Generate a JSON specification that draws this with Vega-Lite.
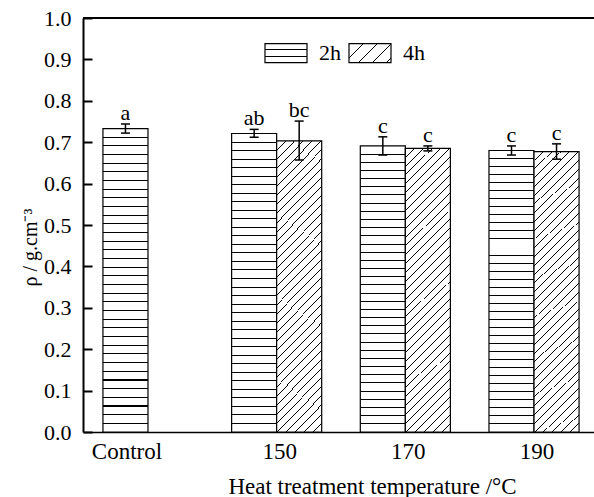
{
"$schema":"https://vega.github.io/schema/vega-lite/v6.json",
"autosize":{"type":"none"},
"padding":{"left":83,"top":18,"right":0,"bottom":65},
"width":511,"height":414,
"background":"white",
"config":{"font":"Liberation Serif","view":{"stroke":null},"axis":{"labelFont":"Liberation Serif","titleFont":"Liberation Serif","titleFontWeight":"normal","labelColor":"black","titleColor":"black","grid":false}},
"data":{"values":[
{"group":"Control","time":"2h","mean":0.733,"lo":0.722,"hi":0.744,"letter":"a"},
{"group":"150","time":"2h","mean":0.721,"lo":0.712,"hi":0.731,"letter":"ab"},
{"group":"150","time":"4h","mean":0.703,"lo":0.657,"hi":0.751,"letter":"bc"},
{"group":"170","time":"2h","mean":0.691,"lo":0.669,"hi":0.713,"letter":"c"},
{"group":"170","time":"4h","mean":0.685,"lo":0.679,"hi":0.691,"letter":"c"},
{"group":"190","time":"2h","mean":0.68,"lo":0.669,"hi":0.691,"letter":"c"},
{"group":"190","time":"4h","mean":0.677,"lo":0.659,"hi":0.696,"letter":"c"}
]},
"layer":[
{"encoding":{
"x":{"field":"group","type":"nominal","scale":{"domain":["Control","150","170","190"],"range":[0,516],"paddingInner":0.3,"paddingOuter":0.155},
"axis":{"title":"Heat treatment temperature /°C","ticks":false,"domainColor":"black","domainWidth":1.5,"labelAngle":0,"labelFontSize":23,"labelPadding":8,"labelOffset":{"condition":{"test":"datum.value==='Control'","value":-21},"value":3},"titleFontSize":23,"titlePadding":12,"titleX":289}},
"xOffset":{"field":"time","type":"nominal","scale":{"domain":["2h","4h"]}}
},
"layer":[
{"mark":{"type":"bar","strokeWidth":1.2,"fill":{"expr":"datum.time === '2h' ? {gradient:'linear',x1:0,y1:0,x2:0,y2:1,stops:[{offset:0.0269,color:'#fff'},{offset:0.0269,color:'#000'},{offset:0.0303,color:'#000'},{offset:0.0303,color:'#fff'},{offset:0.0554,color:'#fff'},{offset:0.0554,color:'#000'},{offset:0.0588,color:'#000'},{offset:0.0588,color:'#fff'},{offset:0.084,color:'#fff'},{offset:0.084,color:'#000'},{offset:0.0874,color:'#000'},{offset:0.0874,color:'#fff'},{offset:0.1126,color:'#fff'},{offset:0.1126,color:'#000'},{offset:0.116,color:'#000'},{offset:0.116,color:'#fff'},{offset:0.1412,color:'#fff'},{offset:0.1412,color:'#000'},{offset:0.1446,color:'#000'},{offset:0.1446,color:'#fff'},{offset:0.1697,color:'#fff'},{offset:0.1697,color:'#000'},{offset:0.1731,color:'#000'},{offset:0.1731,color:'#fff'},{offset:0.1983,color:'#fff'},{offset:0.1983,color:'#000'},{offset:0.2017,color:'#000'},{offset:0.2017,color:'#fff'},{offset:0.2269,color:'#fff'},{offset:0.2269,color:'#000'},{offset:0.2303,color:'#000'},{offset:0.2303,color:'#fff'},{offset:0.2554,color:'#fff'},{offset:0.2554,color:'#000'},{offset:0.2588,color:'#000'},{offset:0.2588,color:'#fff'},{offset:0.284,color:'#fff'},{offset:0.284,color:'#000'},{offset:0.2874,color:'#000'},{offset:0.2874,color:'#fff'},{offset:0.3126,color:'#fff'},{offset:0.3126,color:'#000'},{offset:0.316,color:'#000'},{offset:0.316,color:'#fff'},{offset:0.3412,color:'#fff'},{offset:0.3412,color:'#000'},{offset:0.3446,color:'#000'},{offset:0.3446,color:'#fff'},{offset:0.3697,color:'#fff'},{offset:0.3697,color:'#000'},{offset:0.3731,color:'#000'},{offset:0.3731,color:'#fff'},{offset:0.3983,color:'#fff'},{offset:0.3983,color:'#000'},{offset:0.4017,color:'#000'},{offset:0.4017,color:'#fff'},{offset:0.4269,color:'#fff'},{offset:0.4269,color:'#000'},{offset:0.4303,color:'#000'},{offset:0.4303,color:'#fff'},{offset:0.4554,color:'#fff'},{offset:0.4554,color:'#000'},{offset:0.4588,color:'#000'},{offset:0.4588,color:'#fff'},{offset:0.484,color:'#fff'},{offset:0.484,color:'#000'},{offset:0.4874,color:'#000'},{offset:0.4874,color:'#fff'},{offset:0.5126,color:'#fff'},{offset:0.5126,color:'#000'},{offset:0.516,color:'#000'},{offset:0.516,color:'#fff'},{offset:0.5412,color:'#fff'},{offset:0.5412,color:'#000'},{offset:0.5446,color:'#000'},{offset:0.5446,color:'#fff'},{offset:0.5697,color:'#fff'},{offset:0.5697,color:'#000'},{offset:0.5731,color:'#000'},{offset:0.5731,color:'#fff'},{offset:0.5983,color:'#fff'},{offset:0.5983,color:'#000'},{offset:0.6017,color:'#000'},{offset:0.6017,color:'#fff'},{offset:0.6269,color:'#fff'},{offset:0.6269,color:'#000'},{offset:0.6303,color:'#000'},{offset:0.6303,color:'#fff'},{offset:0.6554,color:'#fff'},{offset:0.6554,color:'#000'},{offset:0.6588,color:'#000'},{offset:0.6588,color:'#fff'},{offset:0.684,color:'#fff'},{offset:0.684,color:'#000'},{offset:0.6874,color:'#000'},{offset:0.6874,color:'#fff'},{offset:0.7126,color:'#fff'},{offset:0.7126,color:'#000'},{offset:0.716,color:'#000'},{offset:0.716,color:'#fff'},{offset:0.7412,color:'#fff'},{offset:0.7412,color:'#000'},{offset:0.7446,color:'#000'},{offset:0.7446,color:'#fff'},{offset:0.7697,color:'#fff'},{offset:0.7697,color:'#000'},{offset:0.7731,color:'#000'},{offset:0.7731,color:'#fff'},{offset:0.7983,color:'#fff'},{offset:0.7983,color:'#000'},{offset:0.8017,color:'#000'},{offset:0.8017,color:'#fff'},{offset:0.8269,color:'#fff'},{offset:0.8269,color:'#000'},{offset:0.8303,color:'#000'},{offset:0.8303,color:'#fff'},{offset:0.8554,color:'#fff'},{offset:0.8554,color:'#000'},{offset:0.8588,color:'#000'},{offset:0.8588,color:'#fff'},{offset:0.884,color:'#fff'},{offset:0.884,color:'#000'},{offset:0.8874,color:'#000'},{offset:0.8874,color:'#fff'},{offset:0.9126,color:'#fff'},{offset:0.9126,color:'#000'},{offset:0.916,color:'#000'},{offset:0.916,color:'#fff'},{offset:0.9412,color:'#fff'},{offset:0.9412,color:'#000'},{offset:0.9446,color:'#000'},{offset:0.9446,color:'#fff'},{offset:0.9697,color:'#fff'},{offset:0.9697,color:'#000'},{offset:0.9731,color:'#000'},{offset:0.9731,color:'#fff'}]} : datum.time === '4h' ? {gradient:'linear',x1:0,y1:0,x2:0.1785,y2:1.13,stops:[{offset:0.0255,color:'#fff'},{offset:0.0255,color:'#000'},{offset:0.0285,color:'#000'},{offset:0.0285,color:'#fff'},{offset:0.0526,color:'#fff'},{offset:0.0526,color:'#000'},{offset:0.0556,color:'#000'},{offset:0.0556,color:'#fff'},{offset:0.0796,color:'#fff'},{offset:0.0796,color:'#000'},{offset:0.0826,color:'#000'},{offset:0.0826,color:'#fff'},{offset:0.1066,color:'#fff'},{offset:0.1066,color:'#000'},{offset:0.1096,color:'#000'},{offset:0.1096,color:'#fff'},{offset:0.1336,color:'#fff'},{offset:0.1336,color:'#000'},{offset:0.1366,color:'#000'},{offset:0.1366,color:'#fff'},{offset:0.1607,color:'#fff'},{offset:0.1607,color:'#000'},{offset:0.1637,color:'#000'},{offset:0.1637,color:'#fff'},{offset:0.1877,color:'#fff'},{offset:0.1877,color:'#000'},{offset:0.1907,color:'#000'},{offset:0.1907,color:'#fff'},{offset:0.2147,color:'#fff'},{offset:0.2147,color:'#000'},{offset:0.2177,color:'#000'},{offset:0.2177,color:'#fff'},{offset:0.2417,color:'#fff'},{offset:0.2417,color:'#000'},{offset:0.2447,color:'#000'},{offset:0.2447,color:'#fff'},{offset:0.2688,color:'#fff'},{offset:0.2688,color:'#000'},{offset:0.2718,color:'#000'},{offset:0.2718,color:'#fff'},{offset:0.2958,color:'#fff'},{offset:0.2958,color:'#000'},{offset:0.2988,color:'#000'},{offset:0.2988,color:'#fff'},{offset:0.3228,color:'#fff'},{offset:0.3228,color:'#000'},{offset:0.3258,color:'#000'},{offset:0.3258,color:'#fff'},{offset:0.3499,color:'#fff'},{offset:0.3499,color:'#000'},{offset:0.3529,color:'#000'},{offset:0.3529,color:'#fff'},{offset:0.3769,color:'#fff'},{offset:0.3769,color:'#000'},{offset:0.3799,color:'#000'},{offset:0.3799,color:'#fff'},{offset:0.4039,color:'#fff'},{offset:0.4039,color:'#000'},{offset:0.4069,color:'#000'},{offset:0.4069,color:'#fff'},{offset:0.4309,color:'#fff'},{offset:0.4309,color:'#000'},{offset:0.4339,color:'#000'},{offset:0.4339,color:'#fff'},{offset:0.458,color:'#fff'},{offset:0.458,color:'#000'},{offset:0.461,color:'#000'},{offset:0.461,color:'#fff'},{offset:0.485,color:'#fff'},{offset:0.485,color:'#000'},{offset:0.488,color:'#000'},{offset:0.488,color:'#fff'},{offset:0.512,color:'#fff'},{offset:0.512,color:'#000'},{offset:0.515,color:'#000'},{offset:0.515,color:'#fff'},{offset:0.539,color:'#fff'},{offset:0.539,color:'#000'},{offset:0.542,color:'#000'},{offset:0.542,color:'#fff'},{offset:0.5661,color:'#fff'},{offset:0.5661,color:'#000'},{offset:0.5691,color:'#000'},{offset:0.5691,color:'#fff'},{offset:0.5931,color:'#fff'},{offset:0.5931,color:'#000'},{offset:0.5961,color:'#000'},{offset:0.5961,color:'#fff'},{offset:0.6201,color:'#fff'},{offset:0.6201,color:'#000'},{offset:0.6231,color:'#000'},{offset:0.6231,color:'#fff'},{offset:0.6472,color:'#fff'},{offset:0.6472,color:'#000'},{offset:0.6502,color:'#000'},{offset:0.6502,color:'#fff'},{offset:0.6742,color:'#fff'},{offset:0.6742,color:'#000'},{offset:0.6772,color:'#000'},{offset:0.6772,color:'#fff'},{offset:0.7012,color:'#fff'},{offset:0.7012,color:'#000'},{offset:0.7042,color:'#000'},{offset:0.7042,color:'#fff'},{offset:0.7282,color:'#fff'},{offset:0.7282,color:'#000'},{offset:0.7312,color:'#000'},{offset:0.7312,color:'#fff'},{offset:0.7553,color:'#fff'},{offset:0.7553,color:'#000'},{offset:0.7583,color:'#000'},{offset:0.7583,color:'#fff'},{offset:0.7823,color:'#fff'},{offset:0.7823,color:'#000'},{offset:0.7853,color:'#000'},{offset:0.7853,color:'#fff'},{offset:0.8093,color:'#fff'},{offset:0.8093,color:'#000'},{offset:0.8123,color:'#000'},{offset:0.8123,color:'#fff'},{offset:0.8363,color:'#fff'},{offset:0.8363,color:'#000'},{offset:0.8393,color:'#000'},{offset:0.8393,color:'#fff'},{offset:0.8634,color:'#fff'},{offset:0.8634,color:'#000'},{offset:0.8664,color:'#000'},{offset:0.8664,color:'#fff'},{offset:0.8904,color:'#fff'},{offset:0.8904,color:'#000'},{offset:0.8934,color:'#000'},{offset:0.8934,color:'#fff'},{offset:0.9174,color:'#fff'},{offset:0.9174,color:'#000'},{offset:0.9204,color:'#000'},{offset:0.9204,color:'#fff'},{offset:0.9445,color:'#fff'},{offset:0.9445,color:'#000'},{offset:0.9475,color:'#000'},{offset:0.9475,color:'#fff'},{offset:0.9715,color:'#fff'},{offset:0.9715,color:'#000'},{offset:0.9745,color:'#000'},{offset:0.9745,color:'#fff'}]} : datum.value === '2h' ? {gradient:'linear',x1:0,y1:0,x2:0,y2:1,stops:[{offset:0.307,color:'#fff'},{offset:0.307,color:'#000'},{offset:0.36,color:'#000'},{offset:0.36,color:'#fff'},{offset:0.64,color:'#fff'},{offset:0.64,color:'#000'},{offset:0.693,color:'#000'},{offset:0.693,color:'#fff'}]} : {gradient:'linear',x1:0,y1:0,x2:1.206,y2:0.546,stops:[{offset:0.2213,color:'#fff'},{offset:0.2213,color:'#000'},{offset:0.2377,color:'#000'},{offset:0.2377,color:'#fff'},{offset:0.4508,color:'#fff'},{offset:0.4508,color:'#000'},{offset:0.4672,color:'#000'},{offset:0.4672,color:'#fff'},{offset:0.6808,color:'#fff'},{offset:0.6808,color:'#000'},{offset:0.6972,color:'#000'},{offset:0.6972,color:'#fff'},{offset:0.9098,color:'#fff'},{offset:0.9098,color:'#000'},{offset:0.9262,color:'#000'},{offset:0.9262,color:'#fff'}]}"}},
"encoding":{
"y":{"field":"mean","type":"quantitative","scale":{"domain":[0,1],"nice":false},
"axis":{"title":"ρ / g.cm⁻³","titleFontSize":20,"titleX":-43,"titleY":229,"values":[0,0.05,0.1,0.15,0.2,0.25,0.3,0.35,0.4,0.45,0.5,0.55,0.6,0.65,0.7,0.75,0.8,0.85,0.9,0.95,1],
"labelExpr":"round(datum.value*100)%10==0 ? format(datum.value,'.1f') : ''",
"tickSize":{"condition":{"test":"round(datum.value*100)%10==0","value":-9},"value":-5},
"tickWidth":2,"tickColor":"black","domainColor":"black","domainWidth":2,"labelFontSize":22,"labelPadding":21,"labelFlush":false,"labelOverlap":false}},
"stroke":{"field":"time","type":"nominal","scale":{"domain":["2h","4h"],"range":["black","black"]},
"legend":{"orient":"none","legendX":181,"legendY":13,"direction":"horizontal","title":null,"symbolType":"M-1,-0.45H1V0.45H-1Z","symbolSize":1764,"symbolStrokeColor":"black","symbolStrokeWidth":1.2,"labelFont":"Liberation Serif","labelFontSize":22,"labelColor":"black","labelOffset":11,"columnPadding":5,"padding":0}}
}},
{"mark":{"type":"rule","color":"black","strokeWidth":1.5},
"encoding":{"y":{"field":"lo","type":"quantitative"},"y2":{"field":"hi"}}},
{"mark":{"type":"tick","color":"black","size":9,"thickness":1.5,"opacity":1},
"encoding":{"y":{"field":"lo","type":"quantitative"}}},
{"mark":{"type":"tick","color":"black","size":9,"thickness":1.5,"opacity":1},
"encoding":{"y":{"field":"hi","type":"quantitative"}}},
{"mark":{"type":"text","fontSize":22,"font":"Liberation Serif","color":"black","baseline":"alphabetic","dy":-4},
"encoding":{"y":{"field":"hi","type":"quantitative"},"text":{"field":"letter"}}}
]},
{"mark":{"type":"rule","color":"black","strokeWidth":1.5},
"encoding":{"y":{"datum":1}}}
]
}
